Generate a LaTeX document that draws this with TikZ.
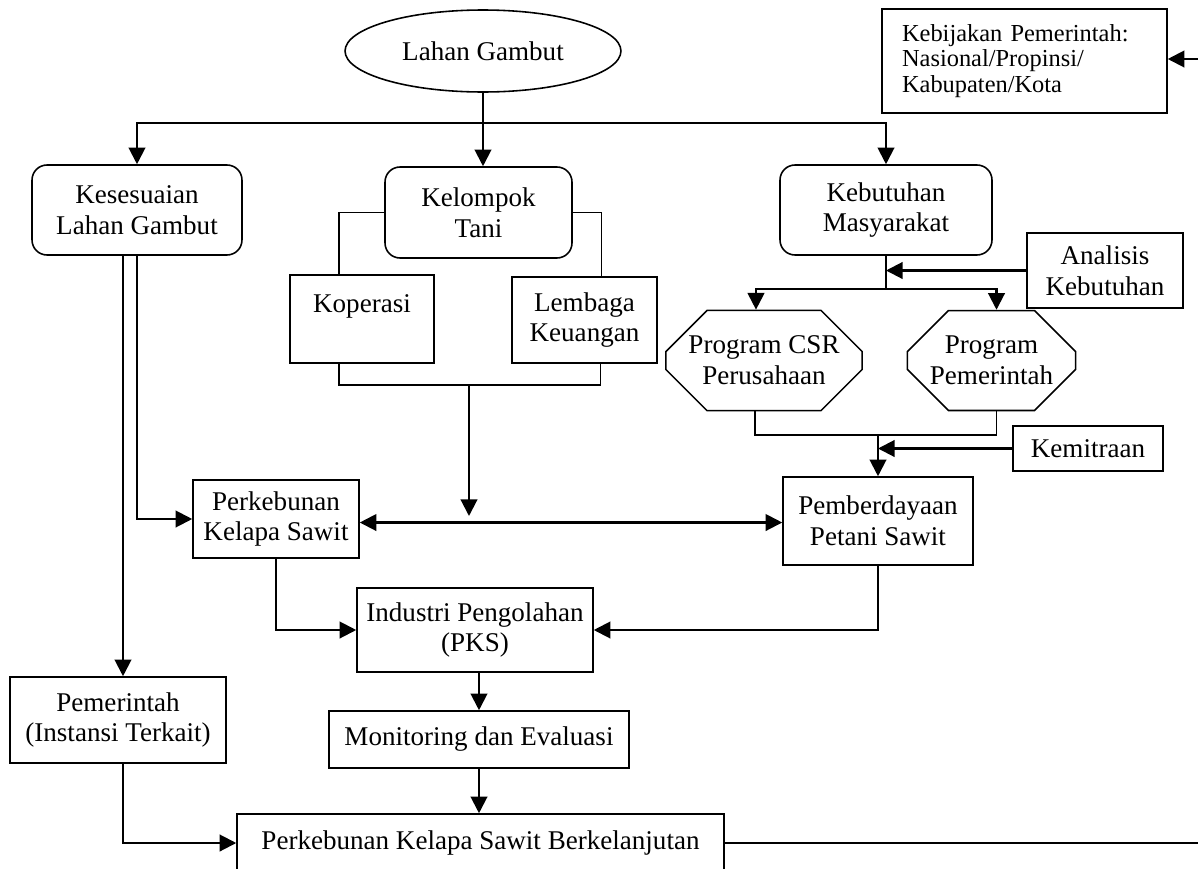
\documentclass[tikz,border=0pt]{standalone}
\usepackage{fontspec}
\setmainfont{Liberation Serif}
\usetikzlibrary{arrows.meta,calc,shapes.geometric,shapes.misc,positioning}

\begin{document}
\begin{tikzpicture}[x=0.02cm,y=-0.02cm,
  font=\fontsize{15.4}{17.6}\selectfont,
  box/.style={draw,line width=0.9pt,align=center,inner sep=2pt},
  rbox/.style={box,rounded corners=0.3cm},
  oct/.style={box,chamfered rectangle,chamfered rectangle xsep=0.38cm,chamfered rectangle ysep=0.44cm},
  arr/.style={line width=1.2pt,-{Triangle[length=9.5pt,width=9.5pt]}},
  arrdua/.style={line width=1.2pt,{Triangle[length=9.5pt,width=9.5pt]}-{Triangle[length=9.5pt,width=9.5pt]}},
  link/.style={line width=0.8pt}]
\useasboundingbox (0,0) rectangle (1198,869);

% --- nodes ---
\node[box,ellipse,minimum width=5.52cm,minimum height=1.64cm] (gambut) at (483,51) {Lahan Gambut};
\node[box,align=left,text width=4.9cm,inner xsep=0.4cm,minimum height=2.08cm,
  font=\fontsize{13.9}{14.7}\selectfont] (kebijakan) at (1024.5,61)
  {Kebijakan Pemerintah:\\Nasional/Propinsi/\\Kabupaten/Kota};

\node[rbox,minimum width=4.2cm,minimum height=1.8cm] (sesuai) at (137,210) {Kesesuaian\\Lahan Gambut};
\node[rbox,minimum width=3.74cm,minimum height=1.82cm] (kelompok) at (478.5,212.5) {Kelompok\\Tani};
\node[rbox,minimum width=4.24cm,minimum height=1.8cm] (butuh) at (886,210) {Kebutuhan\\Masyarakat};

\node[box,minimum width=2.88cm,minimum height=1.76cm] (koperasi) at (362,319) {Koperasi\\~};
\node[box,minimum width=2.9cm,minimum height=1.72cm] (lembaga) at (584.5,320) {Lembaga\\Keuangan};
\node[box,minimum width=3.12cm,minimum height=1.5cm] (analisis) at (1105,270.5) {Analisis\\Kebutuhan};

\node[oct,minimum width=3.8cm,minimum height=1.66cm] (csr) at (764,360.5) {Program CSR\\Perusahaan};
\node[oct,minimum width=3.34cm,minimum height=1.66cm] (progpem) at (991.5,360.5) {Program\\Pemerintah};
\node[box,minimum width=3.0cm,minimum height=0.9cm] (mitra) at (1088,448.5) {Kemitraan};

\node[box,minimum width=3.32cm,minimum height=1.56cm] (kebun) at (276,519) {Perkebunan\\Kelapa Sawit};
\node[box,minimum width=3.8cm,minimum height=1.76cm] (berdaya) at (878,521) {Pemberdayaan\\Petani Sawit};
\node[box,minimum width=4.72cm,minimum height=1.68cm] (industri) at (475,630) {Industri Pengolahan\\(PKS)};
\node[box,minimum width=4.32cm,minimum height=1.72cm] (pemda) at (118,720) {Pemerintah\\(Instansi Terkait)};
\node[box,minimum width=6.0cm,minimum height=1.14cm] (monev) at (479,739.5) {Monitoring dan Evaluasi};
\node[box,minimum width=9.74cm,minimum height=1.16cm] (lestari) at (480.5,843) {Perkebunan Kelapa Sawit Berkelanjutan};

% --- coordinates ---
\coordinate (cabang) at (483,122.7);
\coordinate (kumpul) at (469,385);
\coordinate (ujung) at (469,516);
\coordinate (kiri) at ($(sesuai.south)+(-14,0)$);
\coordinate (temu) at (berdaya.north |- 0,435);
\coordinate (tepiatas) at (1198,59);
\coordinate (tepi) at (1198,843);

% --- connectors ---
\draw[arr] (tepiatas) -- (tepiatas -| kebijakan.east);
\draw[arr] (gambut.south) -- (gambut.south |- kelompok.north);
\draw[arr] (cabang) -| (sesuai.north);
\draw[arr] (cabang) -| (butuh.north);

% kelompok tani
\draw[link] (kelompok.west) -| ($(koperasi.north)+(-23,0)$);
\draw[link] (kelompok.east) -| ($(lembaga.north)+(17,0)$);
\draw[link] ($(koperasi.south)+(-23,0)$) |- (kumpul) -| ($(lembaga.south)+(16,0)$);
\draw[arr] (kumpul) -- (ujung);

% kebutuhan masyarakat
\draw[link] (butuh.south) -- ++(0,33) coordinate (pecah);
\draw[arr] (pecah) -| ($(csr.north)+(-8,0)$);
\draw[arr] (pecah) -| ($(progpem.north)+(5,0)$);
\draw[arr] (analisis.west) -- (analisis.west -| pecah);
\draw[link] ($(csr.south)+(-9,0)$) |- (temu) -| ($(progpem.south)+(5,0)$);
\draw[arr] (temu) -- (berdaya.north);
\draw[arr] (mitra.west) -- (mitra.west -| temu);

% alur utama
\draw[arr] (sesuai.south) |- (kebun.west);
\draw[arr] (kiri) -- (kiri |- pemda.north);
\draw[arrdua] ([yshift=-2]kebun.east) -- ([yshift=-2]kebun.east -| berdaya.west);
\draw[arr] (kebun.south) |- (industri.west);
\draw[arr] (berdaya.south) |- (industri.east);
\draw[arr] (monev.north |- industri.south) -- (monev.north);
\draw[arr] (monev.south) -- (monev.south |- lestari.north);
\draw[arr] (kiri |- pemda.south) |- (lestari.west);
\draw[link] (lestari.east) -- (tepi);
\end{tikzpicture}
\end{document}
